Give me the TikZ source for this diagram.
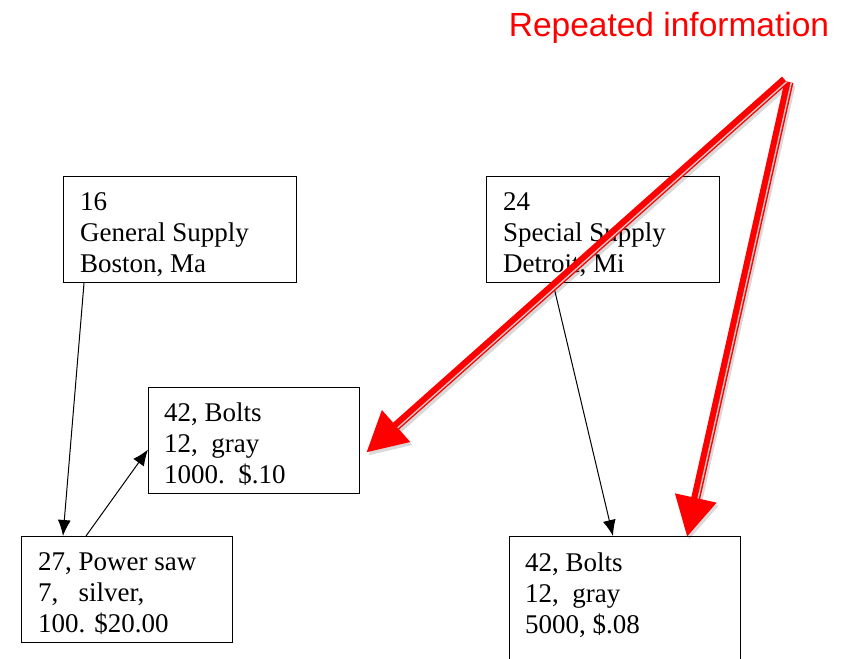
\documentclass[tikz,border=0pt]{standalone}
\usepackage{fontspec}
\setmainfont{Liberation Serif}
\newfontfamily\titlefont{Liberation Sans}
\usetikzlibrary{arrows.meta,calc}
\begin{document}
\begin{tikzpicture}[x=1pt,y=-1pt,
  rec/.style={draw=black,line width=1.2pt,anchor=north west,inner sep=0pt},
  txt/.style={anchor=north west,inner sep=0pt,align=left,font=\fontsize{27}{31}\selectfont},
  blk/.style={draw=black,line width=1pt,-{Latex[length=16pt,width=13pt]}},
  redarrow/.style={draw=red,line width=9pt,-{Triangle[length=40pt,width=40pt]}},
  redgap/.style={draw=black!22,line width=1.4pt,shorten >=40pt},
  shadowarrow/.style={draw=black,opacity=0.15,line width=9pt,-{Triangle[length=40pt,width=40pt]}}]
\clip (0,0) rectangle (850,658);
\useasboundingbox (0,0) rectangle (850,658);
\fill[white] (0,0) rectangle (850,658);
% boxes
\node[rec,minimum width=233pt,minimum height=106pt] (A) at (63,176) {};
\node[rec,minimum width=233pt,minimum height=106pt] (B) at (486,176) {};
\node[rec,minimum width=211pt,minimum height=106pt] (C) at (148,387) {};
\node[rec,minimum width=211pt,minimum height=106pt] (D) at (21,536) {};
\node[rec,minimum width=231pt,minimum height=140pt] (E) at (509,536) {};
% texts
\node[txt] (tA) at (80,192.5) {16\\General Supply\\Boston, Ma};
\node[txt] (tB) at (503,192.5) {24\\Special Supply\\Detroit, Mi};
\node[txt] (tC) at (164,402.5) {42, Bolts\\12,\ \ gray\\1000.\ \ \$.10};
\node[txt] (tD) at (38,552.5) {27, Power saw\\7,\ \ \ silver,\\100. \$20.00};
\node[txt] (tE) at (525,552.5) {42, Bolts\\12,\ \ gray\\5000, \$.08};
% black connectors
\draw[blk] ($(A.south west)+(21,0)$) -- ($(D.north west)+(42,0)$);
\draw[blk] ($(D.north west)+(65,0)$) -- ($(C.west)+(0,9)$);
\draw[blk] ($(B.south west)+(67,0)$) -- ($(E.north west)+(104,0)$);
% title
\node[font=\titlefont\fontsize{33.5}{38}\selectfont,text=red,inner sep=0pt] (title) at (669,28) {Repeated information};
% red arrows
\coordinate (apex1) at (785,80);
\coordinate (apex2) at (789,82);
\coordinate (tip1) at ($(C.east)+(6,12)$);
\coordinate (tip2) at ($(E.north west)+(178,1)$);
\begin{scope}[transform canvas={shift={(2,3)}}]
\draw[shadowarrow] (apex1) -- (tip1);
\draw[shadowarrow] (apex2) -- (tip2);
\end{scope}
\draw[redarrow] (apex1) -- (tip1);
\draw[redarrow] (apex2) -- (tip2);
\draw[redgap,transform canvas={shift={(1.6,1.8)}}] (apex1) -- (tip1);
\draw[redgap,transform canvas={shift={(2.3,0.5)}}] (apex2) -- (tip2);
\end{tikzpicture}
\end{document}
